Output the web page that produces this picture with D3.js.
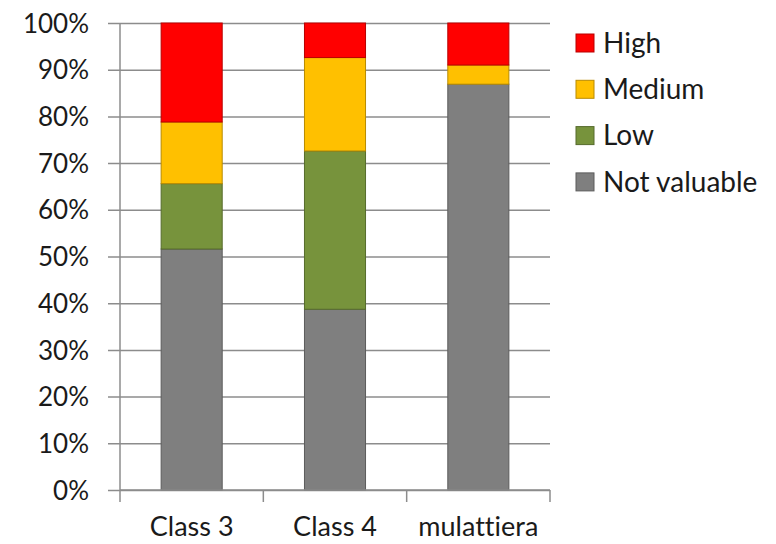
<!DOCTYPE html>
<html>
<head>
<meta charset="utf-8">
<script src="https://cdn.jsdelivr.net/npm/d3@7"></script>
<style>
  html, body { margin: 0; padding: 0; background: #ffffff; }
  svg { display: block; }
  text {
    font-family: Lato, "Open Sans", "DejaVu Sans", sans-serif;
    fill: #1a1a1a;
    font-variant-ligatures: none;
    font-feature-settings: "liga" 0;
  }
</style>
</head>
<body>
<svg id="chart" width="776" height="544"></svg>
<script>
// Road classes on the x axis
const categories = ["Class 3", "Class 4", "mulattiera"];

// Share (%) of each value class per road class
const notValuable = [51.6, 38.7, 86.9];
const low         = [14.0, 33.9, 0.0];
const medium      = [13.2, 20.0, 4.1];
const high        = [21.2, 7.4, 9.0];

const seriesNames  = ["Not valuable", "Low", "Medium", "High"];
const seriesColors = ["#7f7f7f", "#77933c", "#ffc000", "#ff0000"];
const yTicks = [0, 10, 20, 30, 40, 50, 60, 70, 80, 90, 100];

const rows = categories.map((c, i) => ({
  category: c,
  "Not valuable": notValuable[i],
  "Low": low[i],
  "Medium": medium[i],
  "High": high[i]
}));

const svg = d3.select("#chart");
const plot = { left: 120, right: 550, top: 23, bottom: 490 };

const x = d3.scaleBand()
  .domain(categories)
  .range([plot.left, plot.right])
  .paddingInner(0.574)
  .paddingOuter(0.287);

const y = d3.scaleLinear().domain([0, 100]).range([plot.bottom, plot.top]);

const color = d3.scaleOrdinal().domain(seriesNames).range(seriesColors);

// Horizontal gridlines with outward ticks on the value axis
const yAxis = d3.axisLeft(y)
  .tickValues(yTicks)
  .tickFormat(d => d + "%")
  .tickSize(-(plot.right - plot.left))
  .tickSizeOuter(0)
  .tickPadding(0);

const gy = svg.append("g")
  .attr("transform", `translate(${plot.left},0)`)
  .call(yAxis);
gy.select(".domain").remove();
gy.selectAll(".tick line")
  .attr("x1", -12)
  .attr("stroke", "#8c8c8c")
  .attr("stroke-width", 1.5);
gy.selectAll(".tick text")
  .attr("x", -31)
  .attr("dy", "0.35em")
  .style("font-size", "26px")
  .style("font-family", "Lato, 'Open Sans', sans-serif")
  .attr("fill", "#1a1a1a");

// Vertical axis line
svg.append("line")
  .attr("x1", plot.left).attr("x2", plot.left)
  .attr("y1", y(100)).attr("y2", y(0))
  .attr("stroke", "#8c8c8c").attr("stroke-width", 1.5);

// Stacked bars
const stack = d3.stack().keys(seriesNames);
const layers = stack(rows);

svg.append("g")
  .selectAll("g")
  .data(layers)
  .join("g")
    .attr("fill", d => color(d.key))
  .selectAll("rect")
  .data(d => d.filter(s => s[1] - s[0] > 0))
  .join("rect")
    .attr("x", d => x(d.data.category))
    .attr("width", x.bandwidth())
    .attr("y", d => y(d[1]))
    .attr("height", d => y(d[0]) - y(d[1]))
    .attr("stroke", function () {
      return d3.color(d3.select(this.parentNode).attr("fill")).darker(0.9);
    })
    .attr("stroke-width", 1);

// Category axis with ticks between categories
const step = x.step();
const boundaries = d3.range(categories.length + 1).map(i => plot.left + i * step);
const gx = svg.append("g");
gx.append("line")
  .attr("x1", plot.left).attr("x2", plot.right)
  .attr("y1", plot.bottom).attr("y2", plot.bottom)
  .attr("stroke", "#8c8c8c").attr("stroke-width", 1.5);
gx.selectAll("line.tick")
  .data(boundaries)
  .join("line")
    .attr("class", "tick")
    .attr("x1", d => d).attr("x2", d => d)
    .attr("y1", plot.bottom).attr("y2", plot.bottom + 12)
    .attr("stroke", "#8c8c8c").attr("stroke-width", 1.5);
gx.selectAll("text")
  .data(categories)
  .join("text")
    .attr("x", d => x(d) + x.bandwidth() / 2)
    .attr("y", 536)
    .attr("text-anchor", "middle")
    .style("font-size", "27px")
    .text(d => d);

// Legend, top series first
const legendItems = seriesNames.slice().reverse();
const legend = svg.append("g").attr("transform", "translate(576,43)");
const item = legend.selectAll("g")
  .data(legendItems)
  .join("g")
    .attr("transform", (d, i) => `translate(0,${i * 46.3})`);
item.append("rect")
  .attr("x", 0).attr("y", -9)
  .attr("width", 18).attr("height", 18)
  .attr("fill", d => color(d))
  .attr("stroke", d => d3.color(color(d)).darker(0.9))
  .attr("stroke-width", 1);
item.append("text")
  .attr("x", 27)
  .attr("y", 0)
  .attr("dy", "0.35em")
  .style("font-size", "28px")
  .text(d => d);
</script>
</body>
</html>
